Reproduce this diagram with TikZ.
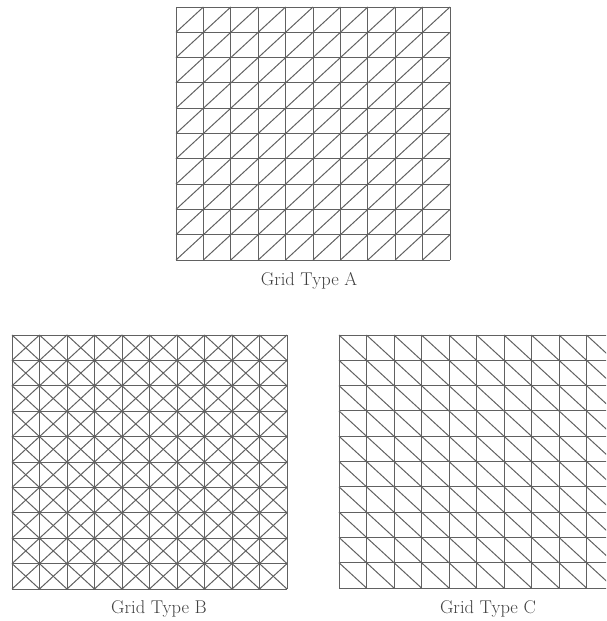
\documentclass[tikz,border=0pt]{standalone}
\begin{document}
\begin{tikzpicture}[x=1pt,y=-1pt,
  gl/.style={line width=1pt, draw=black!62},
  lbl/.style={font=\fontsize{18.5}{22}\selectfont, text=black!75}]
\useasboundingbox (0,0) rectangle (606,621);
\clip (0,0) rectangle (606,621);
% ---- Grid A (diagonals /) ----
\def\ax{176}\def\ay{7}\def\adx{27.4}\def\ady{25.3}
\foreach \i in {0,...,10}{
  \draw[gl] ({\ax+\adx*\i},\ay) -- ({\ax+\adx*\i},{\ay+10*\ady});
  \draw[gl] (\ax,{\ay+\ady*\i}) -- ({\ax+10*\adx},{\ay+\ady*\i});
}
\foreach \i in {0,...,9}{\foreach \j in {0,...,9}{
  \draw[gl] ({\ax+\adx*\i},{\ay+\ady*(\j+1)}) -- ({\ax+\adx*(\i+1)},{\ay+\ady*\j});
}}
\node[lbl] (la) at (309,281) {Grid Type A};
% ---- Grid B (both diagonals) ----
\def\bx{12}\def\by{335}\def\bdx{27.5}\def\bdy{25.4}
\foreach \i in {0,...,10}{
  \draw[gl] ({\bx+\bdx*\i},\by) -- ({\bx+\bdx*\i},{\by+10*\bdy});
  \draw[gl] (\bx,{\by+\bdy*\i}) -- ({\bx+10*\bdx},{\by+\bdy*\i});
}
\foreach \i in {0,...,9}{\foreach \j in {0,...,9}{
  \draw[gl] ({\bx+\bdx*\i},{\by+\bdy*(\j+1)}) -- ({\bx+\bdx*(\i+1)},{\by+\bdy*\j});
  \draw[gl] ({\bx+\bdx*\i},{\by+\bdy*\j}) -- ({\bx+\bdx*(\i+1)},{\by+\bdy*(\j+1)});
}}
\node[lbl] (lb) at (159,609) {Grid Type B};
% ---- Grid C (diagonals \) ----
\def\cx{339}\def\cy{335}\def\cdx{27.5}\def\cdy{25.3}
\foreach \i in {0,...,10}{
  \draw[gl] ({\cx+\cdx*\i},\cy) -- ({\cx+\cdx*\i},{\cy+10*\cdy});
  \draw[gl] (\cx,{\cy+\cdy*\i}) -- ({\cx+10*\cdx},{\cy+\cdy*\i});
}
\foreach \i in {0,...,9}{\foreach \j in {0,...,9}{
  \draw[gl] ({\cx+\cdx*\i},{\cy+\cdy*\j}) -- ({\cx+\cdx*(\i+1)},{\cy+\cdy*(\j+1)});
}}
\node[lbl] (lc) at (488,609) {Grid Type C};
\end{tikzpicture}
\end{document}
